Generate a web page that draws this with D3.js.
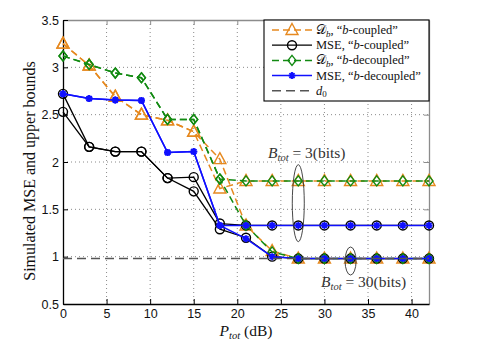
<!DOCTYPE html>
<html><head><meta charset="utf-8">
<script src="https://cdn.jsdelivr.net/npm/d3@7"></script>
<style>body{margin:0;background:#fff} svg{display:block}</style>
</head><body><svg id="c" width="485" height="343"></svg>
<script>
// ---- data ----
const power = [0,3,6,9,12,15,18,21,24,27,30,33,36,39,42];
const dbCoupled3    = [3.25,3.02,2.69,2.50,2.44,2.32,1.72,1.80,1.80,1.80,1.80,1.80,1.80,1.80,1.80];
const dbCoupled30   = [3.25,3.02,2.69,2.50,2.44,2.32,2.03,1.33,1.06,0.98,0.98,0.98,0.98,0.98,0.98];
const mseCoupled3   = [2.53,2.16,2.11,2.11,1.83,1.84,1.35,1.33,1.33,1.33,1.33,1.33,1.33,1.33,1.33];
const mseCoupled30  = [2.72,2.16,2.11,2.11,1.83,1.69,1.29,1.20,1.00,0.98,0.98,0.98,0.98,0.98,0.98];
const dbDecoupled3  = [3.12,3.03,2.94,2.89,2.45,2.45,1.82,1.80,1.80,1.80,1.80,1.80,1.80,1.80,1.80];
const dbDecoupled30 = [3.12,3.03,2.94,2.89,2.45,2.45,1.82,1.33,1.05,0.98,0.98,0.98,0.98,0.98,0.98];
const mseDecoupled3 = [2.72,2.67,2.655,2.65,2.10,2.11,1.33,1.33,1.33,1.33,1.33,1.33,1.33,1.33,1.33];
const mseDecoupled30= [2.72,2.67,2.655,2.65,2.10,2.11,1.33,1.19,1.00,0.98,0.98,0.98,0.98,0.98,0.98];
const d0 = 0.98;
const xTicks = [0,5,10,15,20,25,30,35,40];
const yTicks = [0.5,1,1.5,2,2.5,3,3.5];
const xDomain = [0,42], yDomain = [0.5,3.5];

// ---- layout ----
const L=63, R=429, T=20, B=304;
const svg = d3.select('#c');
const x = d3.scaleLinear().domain(xDomain).range([L,R]);
const y = d3.scaleLinear().domain(yDomain).range([B,T]);
const SERIF = "'Liberation Serif','Times New Roman',serif";
const SANS = "'Liberation Sans',Arial,sans-serif";

// grid
const g = svg.append('g');
g.selectAll('.gx').data(xTicks.filter(v=>v>xDomain[0])).enter().append('line')
  .attr('x1',d=>x(d)).attr('x2',d=>x(d)).attr('y1',T).attr('y2',B)
  .attr('stroke','#8a8a8a').attr('stroke-width',1).attr('stroke-dasharray','1,3');
g.selectAll('.gy').data(yTicks.filter(v=>v>yDomain[0]&&v<yDomain[1])).enter().append('line')
  .attr('x1',L).attr('x2',R).attr('y1',d=>y(d)).attr('y2',d=>y(d))
  .attr('stroke','#8a8a8a').attr('stroke-width',1).attr('stroke-dasharray','1,3');

// axes
const axB = d3.axisBottom(x).tickValues(xTicks).tickSizeInner(-5).tickSizeOuter(0).tickPadding(5);
const axL = d3.axisLeft(y).tickValues(yTicks).tickFormat(d3.format('.1~f')).tickSizeInner(-5).tickSizeOuter(0).tickPadding(4);
const axT = d3.axisTop(x).tickValues(xTicks).tickSizeInner(-5).tickSizeOuter(0).tickFormat('');
const axR = d3.axisRight(y).tickValues(yTicks).tickSizeInner(-5).tickSizeOuter(0).tickFormat('');
function styleAx(sel,col){
  sel.selectAll('path').attr('stroke',col).attr('stroke-width',1.3);
  sel.selectAll('line').attr('stroke',col).attr('stroke-width',1);
  sel.selectAll('text').attr('fill','#111').style('font-family',SANS).style('font-size','12.5px');
}
svg.append('g').attr('transform',`translate(0,${T})`).call(axT).call(s=>styleAx(s,'#8c8c8c'));
svg.append('g').attr('transform',`translate(${R},0)`).call(axR).call(s=>styleAx(s,'#8c8c8c'));
svg.append('g').attr('transform',`translate(0,${B})`).call(axB).call(s=>styleAx(s,'#000'));
svg.append('g').attr('transform',`translate(${L},0)`).call(axL).call(s=>styleAx(s,'#000'));

// ---- series ----
const ORANGE='#e6891f', GREEN='#128a12', BLUE='#1010ff', BLACK='#000';
const styles = {
  dbC:{color:ORANGE,dash:'7,4',marker:'tri',w:1.5},
  mseC:{color:BLACK,dash:null,marker:'circ',w:1.3},
  dbD:{color:GREEN,dash:'7,4',marker:'dia',w:1.5},
  mseD:{color:BLUE,dash:null,marker:'star',w:1.5}
};
const series = [
  {vals:dbCoupled3,st:'dbC'},{vals:dbCoupled30,st:'dbC'},
  {vals:mseCoupled3,st:'mseC'},{vals:mseCoupled30,st:'mseC'},
  {vals:dbDecoupled3,st:'dbD'},{vals:dbDecoupled30,st:'dbD'},
  {vals:mseDecoupled3,st:'mseD'},{vals:mseDecoupled30,st:'mseD'}
];
function marker(sel,type,color){
  if(type==='tri') sel.append('path').attr('d','M0,-6.5L6,4.5L-6,4.5Z').attr('fill','none').attr('stroke',color).attr('stroke-width',1.4);
  else if(type==='circ') sel.append('circle').attr('r',4.5).attr('fill','none').attr('stroke',color).attr('stroke-width',1.4);
  else if(type==='dia') sel.append('path').attr('d','M0,-5L4,0L0,5L-4,0Z').attr('fill','none').attr('stroke',color).attr('stroke-width',1.4);
  else if(type==='star') sel.append('path').attr('d','M-3.5,0H3.5M0,-3.5V3.5M-2.5,-2.5L2.5,2.5M-2.5,2.5L2.5,-2.5').attr('stroke',color).attr('stroke-width',1.9);
}
const line = d3.line().x(d=>x(d[0])).y(d=>y(d[1]));
const gs = svg.append('g');
series.forEach(s=>{
  const st = styles[s.st];
  const pts = power.map((p,i)=>[p,s.vals[i]]);
  gs.append('path').datum(pts).attr('d',line).attr('fill','none')
    .attr('stroke',st.color).attr('stroke-width',st.w)
    .attr('stroke-dasharray',st.dash);
  pts.forEach(p=>{
    const m = gs.append('g').attr('transform',`translate(${x(p[0])},${y(p[1])})`);
    marker(m,st.marker,st.color);
  });
});
// d0
svg.append('line').attr('x1',x(xDomain[0])).attr('x2',x(xDomain[1])).attr('y1',y(d0)).attr('y2',y(d0))
  .attr('stroke','#555').attr('stroke-width',1.4).attr('stroke-dasharray','9,5');

// ---- annotations ----
function ann(xp,yp,num){
  const t = svg.append('text').attr('x',xp).attr('y',yp).attr('fill','#333')
    .style('font-family',SERIF).style('font-size','15.5px');
  t.append('tspan').style('font-style','italic').text('B');
  t.append('tspan').style('font-style','italic').style('font-size','10.5px').attr('dy',3).text('tot');
  t.append('tspan').attr('dy',-3).text(' = '+num+'(bits)');
}
ann(268,158,'3');
ann(321,287,'30');
svg.append('ellipse').attr('cx',x(27)).attr('cy',y(1.565)).attr('rx',6).attr('ry',38.5)
  .attr('fill','none').attr('stroke','#333').attr('stroke-width',0.9);
svg.append('ellipse').attr('cx',x(33)).attr('cy',261).attr('rx',5.5).attr('ry',14)
  .attr('fill','none').attr('stroke','#333').attr('stroke-width',0.9);

// ---- legend ----
const lg = svg.append('g');
lg.append('rect').attr('x',264).attr('y',T).attr('width',R-264).attr('height',81)
  .attr('fill','#fff').attr('stroke','#000').attr('stroke-width',1.1);
const legItems = [
  {st:'dbC', parts:[['𝒟',''],['b','sub'],[', “',''],['b','it'],['-coupled”','']]},
  {st:'mseC', parts:[['MSE, “',''],['b','it'],['-coupled”','']]},
  {st:'dbD', parts:[['𝒟',''],['b','sub'],[', “',''],['b','it'],['-decoupled”','']]},
  {st:'mseD', parts:[['MSE, “',''],['b','it'],['-decoupled”','']]},
  {st:'d0', parts:[['d','it'],['0','sub0']]}
];
legItems.forEach((it,i)=>{
  const yy = 30 + i*15.2;
  const st = it.st==='d0' ? {color:'#555',dash:'9,5',w:1.4} : styles[it.st];
  lg.append('line').attr('x1',272).attr('x2',312).attr('y1',yy).attr('y2',yy)
    .attr('stroke',st.color).attr('stroke-width',st.w).attr('stroke-dasharray',st.dash);
  if(st.marker){ const m=lg.append('g').attr('transform',`translate(292,${yy})`); marker(m,st.marker,st.color); }
  const t = lg.append('text').attr('x',316).attr('y',yy+4).attr('fill','#111')
    .style('font-family',SERIF).style('font-size','12.5px');
  let shifted=false;
  it.parts.forEach(([s,k])=>{
    const ts=t.append('tspan').text(s);
    if(k==='sub'){ts.style('font-style','italic').style('font-size','9px').attr('dy',2.5); shifted=true;}
    else if(k==='sub0'){ts.style('font-size','9px').attr('dy',2.5); shifted=true;}
    else { if(k==='it') ts.style('font-style','italic'); if(shifted){ts.attr('dy',-2.5); shifted=false;} }
  });
});

// ---- axis labels ----
const xl = svg.append('text').attr('x',(L+R)/2).attr('y',336).attr('text-anchor','middle')
  .attr('fill','#111').style('font-family',SERIF).style('font-size','15.5px');
xl.append('tspan').style('font-style','italic').text('P');
xl.append('tspan').style('font-style','italic').style('font-size','10.5px').attr('dy',3).text('tot');
xl.append('tspan').attr('dy',-3).text(' (dB)');
svg.append('text').attr('transform',`translate(35,171) rotate(-90)`).attr('text-anchor','middle')
  .attr('fill','#111').style('font-family',SERIF).style('font-size','16px')
  .text('Simulated MSE and upper bounds');
</script></body></html>
